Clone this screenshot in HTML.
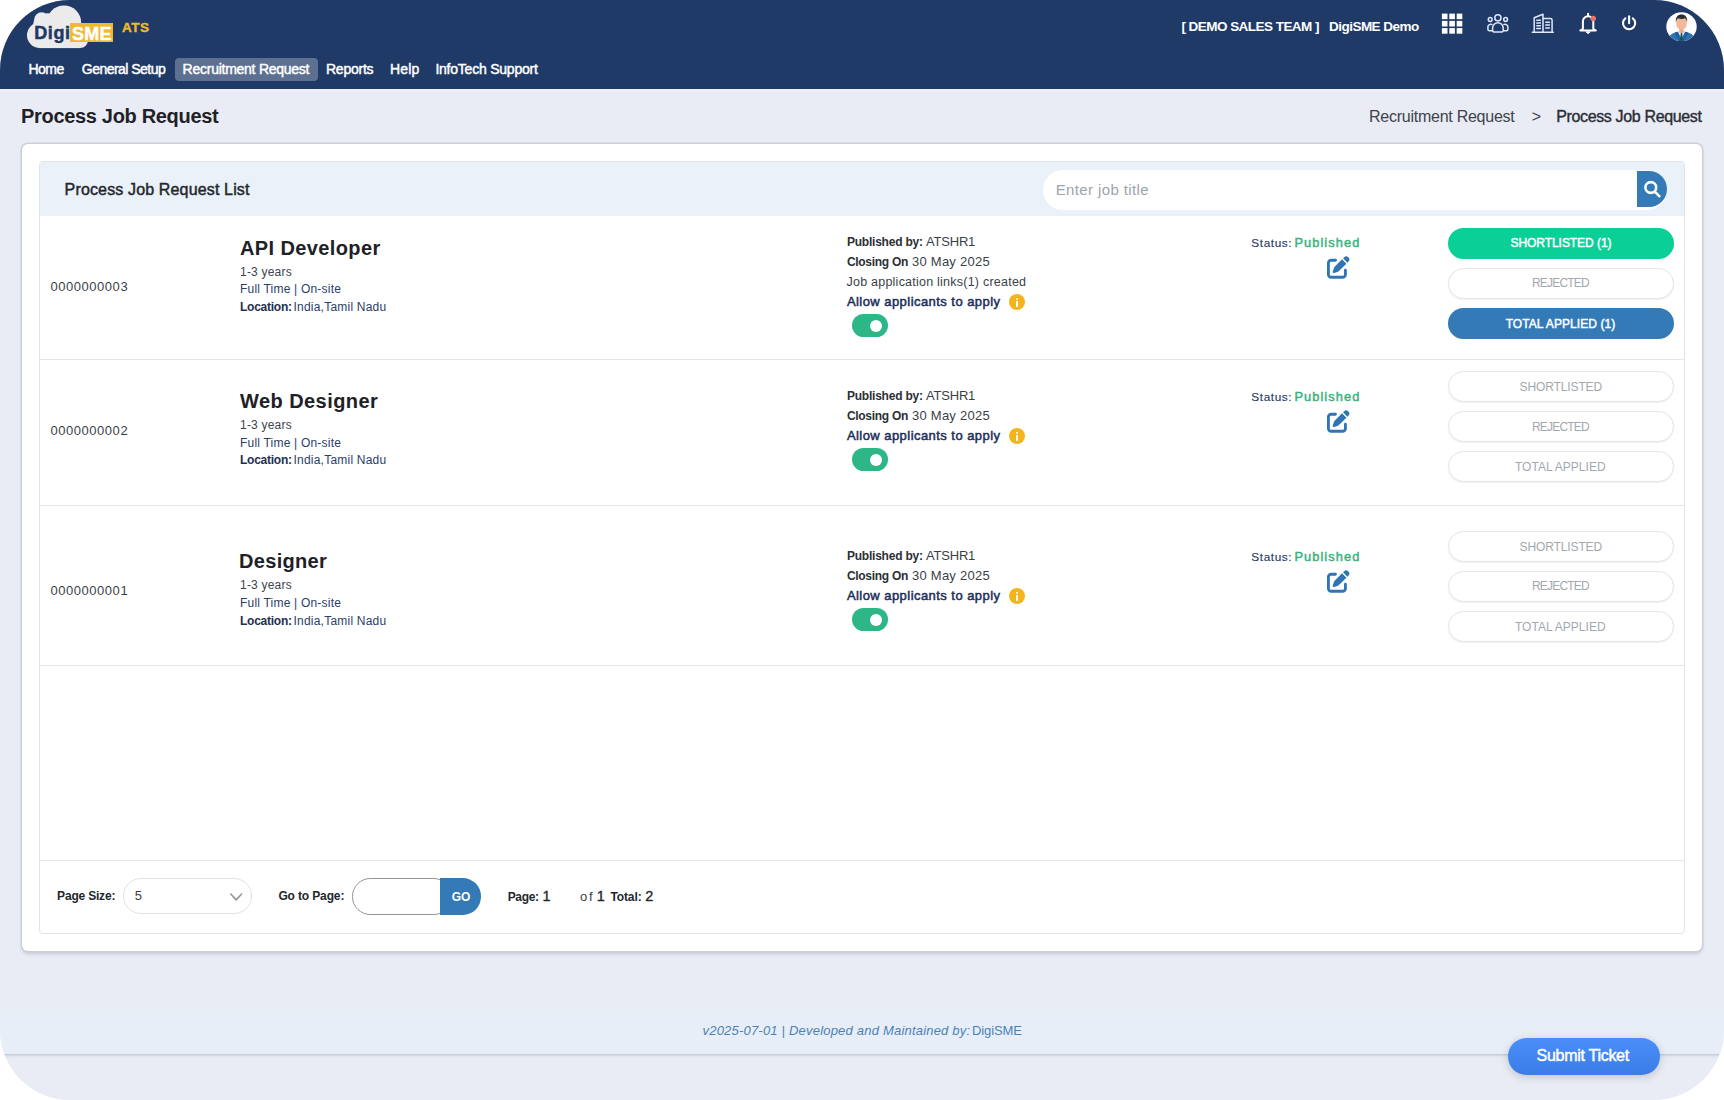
<!DOCTYPE html><html lang="en"><head><meta charset="utf-8"><title>Process Job Request - DigiSME ATS</title>
<meta name="viewport" content="width=1724"><style>
*{box-sizing:border-box;margin:0;padding:0}
html,body{width:1724px;height:1100px;overflow:hidden;background:#fff}
body{font-family:"Liberation Sans", sans-serif;position:relative}
#app{position:absolute;left:0;top:0;width:1724px;height:1100px;background:#e9ecf5;border-radius:70px;overflow:hidden}
.t{position:absolute;white-space:nowrap;line-height:1;text-decoration:none;font-weight:400;display:block}
.abs{position:absolute}
#hdr{left:0;top:0;width:1724px;height:88.800px;background:#1f3a67;box-shadow:0 2px 0 #ecf1fb}
#navact{left:175px;top:57.5px;width:142.6px;height:23.4px;border-radius:4px;background:rgba(255,255,255,.28)}
#sme{left:70.3px;top:22.9px;width:43.1px;height:18.9px;background:#f0b92f}
#card{left:21.600px;top:144.300px;width:1680.600px;height:806.400px;background:#fff;border-radius:6px;box-shadow:0 0 0 1.500px #cdcfd4,0 2.500px 3.500px 0 rgba(90,100,135,.25)}
#panel{left:38.700px;top:161px;width:1646.300px;height:772.800px;background:#fff;border:1px solid #e1e4e8;border-radius:4px;overflow:hidden}
#phead{left:40px;top:162px;width:1644px;height:54px;background:#eaf1f9;border-radius:3px 3px 0 0}
.sep{left:40px;width:1644px;height:1px;background:#e3e6ea}
#search{left:1043.3px;top:170.1px;width:624.2px;height:39.6px;border-radius:20px;background:#fff}
#sbtn{left:1637.2px;top:170.9px;width:30px;height:36.6px;background:#337ab7;border-radius:0 18.3px 18.3px 0}
.btn{left:1448px;width:225.8px;height:31px;border-radius:16px}
.btn.g{background:#0acf97}
.btn.b{background:#337ab7}
.btn.o{background:#fff;border:1px solid #e2e5e9;box-shadow:0 1px 2px rgba(0,0,0,.06)}
.tog{left:852px;width:35.6px;height:23px;border-radius:12px;background:#2db686}
.tog i{position:absolute;left:17.6px;top:5.3px;width:12.4px;height:12.4px;border-radius:50%;background:#fff}
.info{left:1008.8px;width:16.2px;height:16.2px;border-radius:50%;background:#f4b51c}
.info i{position:absolute;left:6.900px;top:3.700px;width:2.400px;height:2.300px;background:#fff;border-radius:1.200px}
.info b{position:absolute;left:6.900px;top:6.600px;width:2.400px;height:6.300px;background:#fff;border-radius:.7px}
#psel{left:123.2px;top:878.3px;width:128.8px;height:36px;border:1px solid #dee2e6;border-radius:18px;background:#fff}
#pinp{left:351.9px;top:878.2px;width:100px;height:36.5px;border:1px solid #8f949a;border-radius:18.3px;background:#fff}
#pgo{left:440.2px;top:878.2px;width:41.2px;height:36.5px;background:#337ab7;border-radius:0 18.3px 18.3px 0}
#fband{left:0;top:1008px;width:1724px;height:46px;background:linear-gradient(#e9edf6,#e8eef7 10px);box-shadow:0 3px 3px -2px rgba(90,105,135,.36)}
#ticket{left:1507.6px;top:1038.2px;width:152px;height:36.5px;border-radius:18.3px;background:linear-gradient(#4a8ef9,#3b7de7);box-shadow:0 2px 8px rgba(0,0,0,.18)}
svg{position:absolute;overflow:visible}
</style></head><body><div id="app">
<footer><div class="abs" id="fband"></div><span class="t" id="t76" style="font-size:13px;color:#4a82b8;font-style:italic;letter-spacing:0.205px;left:702.50px;top:1024.40px">v2025-07-01 | Developed and Maintained by:</span>
<span class="t" id="t77" style="font-size:13px;color:#4a82b8;letter-spacing:-0.099px;left:972.00px;top:1024.40px">DigiSME</span></footer>
<header><div class="abs" id="hdr"></div>
<svg id="cloud" style="left:0;top:0" width="130" height="56" viewBox="0 0 130 56"><g fill="#ebebeb"><circle cx="64" cy="22.7" r="17.2"/><circle cx="41.6" cy="19.7" r="7.4"/><circle cx="39.8" cy="35.3" r="12.8"/><circle cx="80" cy="40" r="8.1"/><rect x="39" y="24" width="41" height="24.1"/><circle cx="47.6" cy="18.1" r="4.9"/><path d="M33 25l1.200-5.500 8-.5v11z"/></g></svg>
<svg id="igrid" style="left:0;top:0" width="1724" height="60"><g fill="#fff"><rect x="1441.9" y="13.6" width="5.6" height="5.6"/><rect x="1449.3" y="13.6" width="5.6" height="5.6"/><rect x="1456.7" y="13.6" width="5.6" height="5.6"/><rect x="1441.9" y="20.9" width="5.6" height="5.6"/><rect x="1449.3" y="20.9" width="5.6" height="5.6"/><rect x="1456.7" y="20.9" width="5.6" height="5.6"/><rect x="1441.9" y="28.1" width="5.6" height="5.6"/><rect x="1449.3" y="28.1" width="5.6" height="5.6"/><rect x="1456.7" y="28.1" width="5.6" height="5.6"/></g></svg>
<svg id="ipeople" style="left:0;top:0" width="1724" height="60"><g fill="none" stroke="#dfe8ff" stroke-width="1.5" stroke-linejoin="round"><circle cx="1497.9" cy="17.8" r="3.1"/><circle cx="1490.2" cy="19.5" r="1.9"/><circle cx="1505.6" cy="19.5" r="1.9"/><path d="M1492.6 30.6v-2.600a5.300 5.300 0 0 1 10.600 0v2.600q0 1.500-1.500 1.500h-7.600q-1.500 0-1.500-1.500z"/><path d="M1492.600 30.800h-3.200q-1.500 0-1.500-1.500v-2.200a2.900 2.900 0 0 1 4.500-2.400"/><path d="M1503.200 30.800h3.200q1.500 0 1.500-1.500v-2.200a2.900 2.900 0 0 0-4.500-2.400"/></g></svg>
<svg id="ibuild" style="left:0;top:0" width="1724" height="60"><g fill="none" stroke="#dfe8ff" stroke-width="1.5" stroke-linejoin="round" stroke-linecap="round"><path d="M1532.300 32.300h21"/><path d="M1534.200 32.300v-14.600l8.800-3.500v18.100"/><path d="M1543 18.600h7.500q1.600 0 1.600 1.600v12.100"/><path d="M1536.800 20.300h3.600M1536.800 23h3.600M1536.800 25.800h3.600M1536.800 28.600h3.600M1545.800 22.300h3.600M1545.800 25.100h3.600M1545.800 27.900h3.600" stroke-width="1.500"/></g></svg>
<svg id="ibell" style="left:0;top:0" width="1724" height="60"><path d="M1588.100 13.800v1.400M1582.900 28.800v-7.300a5.200 5.200 0 0 1 10.400 0v7.300l2.600 1.700h-15.600z" fill="none" stroke="#fff" stroke-width="2" stroke-linejoin="round" stroke-linecap="round"/><path d="M1585.900 31.800h4.400l-2.200 1.900z" fill="#fff" stroke="#fff" stroke-width=".8" stroke-linejoin="round"/><circle cx="1593.200" cy="18.500" r="2.800" fill="#e8736b"/></svg>
<svg id="ipower" style="left:0;top:0" width="1724" height="60"><g fill="none" stroke="#fff" stroke-width="2.100" stroke-linecap="round"><path d="M1629.100 16.300v7"/><path d="M1625.400 18.300a6.100 6.100 0 1 0 7.400 0"/></g></svg>
<svg id="avatar" style="left:1666.200px;top:11.700px" width="31" height="29.4" viewBox="0 0 31 31" preserveAspectRatio="none"><defs><clipPath id="avc"><circle cx="15.5" cy="15.500" r="15.200"/></clipPath></defs><circle cx="15.500" cy="15.500" r="15.200" fill="#fdfdfd"/><g clip-path="url(#avc)"><path d="M2 31c0-6 4-9 9.500-10.200h8c5.500 1.200 9.500 4.200 9.500 10.200z" fill="#2f72b4"/><path d="M11.800 20.600l3.700 7.400 3.700-7.400z" fill="#f4f6f8"/><path d="M14.800 22h1.400l.7 7.500-1.400 1.500-1.400-1.500z" fill="#1d5246"/><path d="M11.500 20.800l-2.700 1 4.700 9.200h1zM19.500 20.800l2.700 1-4.700 9.200h-1z" fill="#1f5a98"/><rect x="13.300" y="16" width="4.400" height="6" fill="#e6a98a"/><ellipse cx="15.500" cy="11.800" rx="5.300" ry="7" fill="#f0b99c"/><path d="M9.900 10.800c-.6-5.400 2-8.200 5.600-8.200s6.200 2.800 5.600 8.200c-.5-2.300-1.300-3.600-2.300-4.200-2 .9-4.600.9-6.600 0-1 .6-1.800 1.900-2.300 4.200z" fill="#2a2a2a"/></g></svg>
<div class="abs" id="sme"></div>
<span class="t" id="t0" style="font-size:18px;color:#1f3864;font-weight:700;-webkit-text-stroke:0.5px #1f3864;letter-spacing:0.602px;left:34.20px;top:23.60px">Digi</span>
<span class="t" id="t1" style="font-size:18px;color:#ffffff;font-weight:700;-webkit-text-stroke:0.5px #ffffff;letter-spacing:0.350px;left:71.90px;top:24.90px">SME</span>
<span class="t" id="t2" style="font-size:13.5px;color:#f0b92f;font-weight:700;-webkit-text-stroke:0.4px #f0b92f;letter-spacing:0.603px;left:121.90px;top:21.00px">ATS</span>
<nav><div class="abs" id="navact"></div><a class="t" id="t3" href="#" style="font-size:14px;color:#ffffff;-webkit-text-stroke:0.45px #ffffff;letter-spacing:-0.520px;left:28.40px;top:62.30px">Home</a>
<a class="t" id="t4" href="#" style="font-size:14px;color:#ffffff;-webkit-text-stroke:0.45px #ffffff;letter-spacing:-0.525px;left:81.80px;top:62.30px">General Setup</a>
<a class="t" id="t5" href="#" style="font-size:14px;color:#ffffff;-webkit-text-stroke:0.45px #ffffff;letter-spacing:-0.256px;left:182.60px;top:62.30px">Recruitment Request</a>
<a class="t" id="t6" href="#" style="font-size:14px;color:#ffffff;-webkit-text-stroke:0.45px #ffffff;letter-spacing:-0.237px;left:326.00px;top:62.30px">Reports</a>
<a class="t" id="t7" href="#" style="font-size:14px;color:#ffffff;-webkit-text-stroke:0.45px #ffffff;letter-spacing:0.131px;left:390.00px;top:62.30px">Help</a>
<a class="t" id="t8" href="#" style="font-size:14px;color:#ffffff;-webkit-text-stroke:0.45px #ffffff;letter-spacing:-0.224px;left:435.40px;top:62.30px">InfoTech Support</a></nav>
<div id="hright"><span class="t" id="t9" style="font-size:13.5px;color:#ffffff;font-weight:700;letter-spacing:-0.536px;left:1181.40px;top:20.20px">[ DEMO SALES TEAM ]</span>
<span class="t" id="t10" style="font-size:13.5px;color:#ffffff;font-weight:700;letter-spacing:-0.524px;left:1329.00px;top:20.20px">DigiSME Demo</span></div>
</header>
<main>
<h1 class="t" id="t11" style="font-size:20px;color:#1e2126;font-weight:700;letter-spacing:-0.319px;left:21.00px;top:106.30px">Process Job Request</h1>
<div id="crumb"><span class="t" id="t12" style="font-size:16px;color:#3d434b;letter-spacing:-0.252px;left:1369.00px;top:109.40px">Recruitment Request</span>
<span class="t" id="t13" style="font-size:16px;color:#3d434b;left:1531.80px;top:109.40px">&gt;</span>
<span class="t" id="t14" style="font-size:16px;color:#2a2e35;-webkit-text-stroke:0.4px #2a2e35;letter-spacing:-0.352px;left:1556.20px;top:109.40px">Process Job Request</span></div>
<section><div class="abs" id="card"></div><div class="abs" id="panel"></div><div class="abs" id="phead"></div>
<div class="abs" id="search"></div><div class="abs" id="sbtn"></div>
<svg style="left:0;top:0" width="1724" height="220"><g fill="none" stroke="#fff" stroke-width="2.600" stroke-linecap="round"><circle cx="1650.800" cy="187.500" r="5.400"/><path d="M1655 191.800l4.300 4.400"/></g></svg>
<h2 class="t" id="t15" style="font-size:16px;color:#23272d;-webkit-text-stroke:0.45px #23272d;letter-spacing:0.149px;left:64.60px;top:182.30px">Process Job Request List</h2>
<span class="t" id="t16" style="font-size:15px;color:#9ea4ab;letter-spacing:0.378px;left:1055.70px;top:182.30px">Enter job title</span>
<div class="abs sep" style="top:358.8px"></div>
<div class="abs sep" style="top:504.7px"></div>
<div class="abs sep" style="top:664.7px"></div>
<div class="abs sep" style="top:859.9px"></div>
<article id="row0">
<div class="abs btn g" style="top:227.5px"></div>
<div class="abs btn o" style="top:267.9px"></div>
<div class="abs btn b" style="top:308.2px"></div>
<div class="abs tog" style="top:314.3px"><i></i></div>
<div class="abs info" style="top:294.1px"><i></i><b></b></div>
<svg style="left:1327.400px;top:256.0px" width="22.700" height="22.700" viewBox="0 0 512 512"><path fill="#2f74b5" d="M471.6 21.7c-21.9-21.9-57.3-21.9-79.2 0L362.3 51.7l97.900 97.900 30.100-30.100c21.900-21.900 21.900-57.300 0-79.200L471.600 21.700zm-299.200 220c-6.100 6.100-10.800 13.600-13.500 21.900l-29.600 88.800c-2.900 8.600-.6 18.100 5.800 24.600s15.900 8.700 24.600 5.800l88.800-29.600c8.200-2.700 15.700-7.400 21.900-13.500L437.700 172.300 339.700 74.300 172.400 241.700zM96 64C43 64 0 107 0 160V416c0 53 43 96 96 96H352c53 0 96-43 96-96V320c0-17.700-14.300-32-32-32s-32 14.300-32 32v96c0 17.700-14.300 32-32 32H96c-17.700 0-32-14.300-32-32V160c0-17.700 14.300-32 32-32h96c17.700 0 32-14.300 32-32s-14.300-32-32-32H96z"/></svg>
<span class="t" id="t17" style="font-size:13px;color:#3a3f47;letter-spacing:0.548px;left:50.40px;top:280.40px">0000000003</span>
<h3 class="t" id="t18" style="font-size:20px;color:#1e2126;font-weight:700;letter-spacing:0.381px;left:240.00px;top:237.70px">API Developer</h3>
<span class="t" id="t19" style="font-size:12px;color:#3d434b;letter-spacing:0.210px;left:240.00px;top:266.10px">1-3 years</span>
<span class="t" id="t20" style="font-size:12px;color:#2b4068;letter-spacing:0.207px;left:240.00px;top:283.30px">Full Time | On-site</span>
<span class="t" id="t21" style="font-size:12px;color:#1f3050;font-weight:700;letter-spacing:-0.250px;left:240.00px;top:300.90px">Location:</span>
<span class="t" id="t22" style="font-size:12px;color:#2b4068;letter-spacing:0.220px;left:293.50px;top:300.90px">India,Tamil Nadu</span>
<span class="t" id="t23" style="font-size:12px;color:#2b2f36;font-weight:700;letter-spacing:-0.215px;left:846.90px;top:236.40px">Published by:</span>
<span class="t" id="t24" style="font-size:13px;color:#3a3f47;letter-spacing:-0.199px;left:926.00px;top:235.40px">ATSHR1</span>
<span class="t" id="t25" style="font-size:12px;color:#2b2f36;font-weight:700;letter-spacing:-0.285px;left:846.90px;top:256.00px">Closing On</span>
<span class="t" id="t26" style="font-size:13px;color:#3a3f47;letter-spacing:0.247px;left:912.00px;top:255.00px">30 May 2025</span>
<span class="t" id="t27" style="font-size:12.5px;color:#3a3f47;letter-spacing:0.233px;left:846.50px;top:276.00px">Job application links(1) created</span>
<span class="t" id="t28" style="font-size:13px;color:#1c2f5a;-webkit-text-stroke:0.5px #1c2f5a;letter-spacing:0.448px;left:846.90px;top:294.70px">Allow applicants to apply</span>
<span class="t" id="t29" style="font-size:11.8px;color:#2b3d63;-webkit-text-stroke:0.15px #2b3d63;letter-spacing:0.593px;left:1251.30px;top:238.00px">Status:</span>
<span class="t" id="t30" style="font-size:12.8px;color:#3db37e;-webkit-text-stroke:0.5px #3db37e;letter-spacing:1.089px;left:1294.40px;top:237.00px">Published</span>
<span class="t" id="t31" style="font-size:12px;color:#ffffff;-webkit-text-stroke:0.45px #ffffff;letter-spacing:-0.057px;left:1510.50px;top:236.80px">SHORTLISTED (1)</span>
<span class="t" id="t32" style="font-size:12px;color:#a3a8ae;letter-spacing:-0.811px;left:1532.00px;top:277.20px">REJECTED</span>
<span class="t" id="t33" style="font-size:12px;color:#ffffff;-webkit-text-stroke:0.45px #ffffff;letter-spacing:0.063px;left:1505.70px;top:317.50px">TOTAL APPLIED (1)</span>
</article>
<article id="row1">
<div class="abs btn o" style="top:371.4px"></div>
<div class="abs btn o" style="top:411.2px"></div>
<div class="abs btn o" style="top:451.4px"></div>
<div class="abs tog" style="top:448.4px"><i></i></div>
<div class="abs info" style="top:428.2px"><i></i><b></b></div>
<svg style="left:1327.400px;top:409.9px" width="22.700" height="22.700" viewBox="0 0 512 512"><path fill="#2f74b5" d="M471.6 21.7c-21.9-21.9-57.3-21.9-79.2 0L362.3 51.7l97.900 97.900 30.100-30.100c21.900-21.900 21.900-57.300 0-79.200L471.600 21.700zm-299.200 220c-6.100 6.100-10.800 13.600-13.500 21.900l-29.600 88.800c-2.900 8.600-.6 18.100 5.800 24.600s15.900 8.700 24.600 5.800l88.800-29.600c8.200-2.700 15.700-7.400 21.900-13.500L437.700 172.300 339.700 74.300 172.400 241.700zM96 64C43 64 0 107 0 160V416c0 53 43 96 96 96H352c53 0 96-43 96-96V320c0-17.700-14.300-32-32-32s-32 14.300-32 32v96c0 17.700-14.300 32-32 32H96c-17.700 0-32-14.300-32-32V160c0-17.700 14.300-32 32-32h96c17.700 0 32-14.300 32-32s-14.300-32-32-32H96z"/></svg>
<span class="t" id="t34" style="font-size:13px;color:#3a3f47;letter-spacing:0.548px;left:50.40px;top:424.30px">0000000002</span>
<h3 class="t" id="t35" style="font-size:20px;color:#1e2126;font-weight:700;letter-spacing:0.435px;left:240.00px;top:391.20px">Web Designer</h3>
<span class="t" id="t36" style="font-size:12px;color:#3d434b;letter-spacing:0.210px;left:240.00px;top:419.10px">1-3 years</span>
<span class="t" id="t37" style="font-size:12px;color:#2b4068;letter-spacing:0.207px;left:240.00px;top:436.90px">Full Time | On-site</span>
<span class="t" id="t38" style="font-size:12px;color:#1f3050;font-weight:700;letter-spacing:-0.250px;left:240.00px;top:454.30px">Location:</span>
<span class="t" id="t39" style="font-size:12px;color:#2b4068;letter-spacing:0.220px;left:293.50px;top:454.30px">India,Tamil Nadu</span>
<span class="t" id="t40" style="font-size:12px;color:#2b2f36;font-weight:700;letter-spacing:-0.215px;left:846.90px;top:390.10px">Published by:</span>
<span class="t" id="t41" style="font-size:13px;color:#3a3f47;letter-spacing:-0.199px;left:926.00px;top:389.10px">ATSHR1</span>
<span class="t" id="t42" style="font-size:12px;color:#2b2f36;font-weight:700;letter-spacing:-0.285px;left:846.90px;top:410.10px">Closing On</span>
<span class="t" id="t43" style="font-size:13px;color:#3a3f47;letter-spacing:0.247px;left:912.00px;top:409.10px">30 May 2025</span>
<span class="t" id="t44" style="font-size:13px;color:#1c2f5a;-webkit-text-stroke:0.5px #1c2f5a;letter-spacing:0.448px;left:846.90px;top:428.80px">Allow applicants to apply</span>
<span class="t" id="t45" style="font-size:11.8px;color:#2b3d63;-webkit-text-stroke:0.15px #2b3d63;letter-spacing:0.593px;left:1251.30px;top:391.90px">Status:</span>
<span class="t" id="t46" style="font-size:12.8px;color:#3db37e;-webkit-text-stroke:0.5px #3db37e;letter-spacing:1.089px;left:1294.40px;top:390.90px">Published</span>
<span class="t" id="t47" style="font-size:12px;color:#a3a8ae;letter-spacing:-0.113px;left:1519.50px;top:380.70px">SHORTLISTED</span>
<span class="t" id="t48" style="font-size:12px;color:#a3a8ae;letter-spacing:-0.811px;left:1532.00px;top:420.50px">REJECTED</span>
<span class="t" id="t49" style="font-size:12px;color:#a3a8ae;letter-spacing:0.007px;left:1515.00px;top:460.70px">TOTAL APPLIED</span>
</article>
<article id="row2">
<div class="abs btn o" style="top:531.4px"></div>
<div class="abs btn o" style="top:571.0px"></div>
<div class="abs btn o" style="top:611.4px"></div>
<div class="abs tog" style="top:608.4px"><i></i></div>
<div class="abs info" style="top:588.2px"><i></i><b></b></div>
<svg style="left:1327.400px;top:569.9px" width="22.700" height="22.700" viewBox="0 0 512 512"><path fill="#2f74b5" d="M471.6 21.7c-21.9-21.9-57.3-21.9-79.2 0L362.3 51.7l97.900 97.900 30.100-30.100c21.900-21.900 21.900-57.300 0-79.200L471.600 21.700zm-299.200 220c-6.100 6.100-10.800 13.600-13.500 21.900l-29.600 88.800c-2.900 8.600-.6 18.100 5.800 24.600s15.900 8.700 24.600 5.800l88.800-29.600c8.200-2.700 15.700-7.400 21.900-13.500L437.700 172.300 339.700 74.300 172.400 241.700zM96 64C43 64 0 107 0 160V416c0 53 43 96 96 96H352c53 0 96-43 96-96V320c0-17.700-14.300-32-32-32s-32 14.300-32 32v96c0 17.700-14.300 32-32 32H96c-17.700 0-32-14.300-32-32V160c0-17.700 14.300-32 32-32h96c17.700 0 32-14.300 32-32s-14.300-32-32-32H96z"/></svg>
<span class="t" id="t50" style="font-size:13px;color:#3a3f47;letter-spacing:0.548px;left:50.40px;top:584.00px">0000000001</span>
<h3 class="t" id="t51" style="font-size:20px;color:#1e2126;font-weight:700;letter-spacing:0.314px;left:239.00px;top:551.00px">Designer</h3>
<span class="t" id="t52" style="font-size:12px;color:#3d434b;letter-spacing:0.210px;left:240.00px;top:578.90px">1-3 years</span>
<span class="t" id="t53" style="font-size:12px;color:#2b4068;letter-spacing:0.207px;left:240.00px;top:597.00px">Full Time | On-site</span>
<span class="t" id="t54" style="font-size:12px;color:#1f3050;font-weight:700;letter-spacing:-0.250px;left:240.00px;top:615.10px">Location:</span>
<span class="t" id="t55" style="font-size:12px;color:#2b4068;letter-spacing:0.220px;left:293.50px;top:615.10px">India,Tamil Nadu</span>
<span class="t" id="t56" style="font-size:12px;color:#2b2f36;font-weight:700;letter-spacing:-0.215px;left:846.90px;top:550.10px">Published by:</span>
<span class="t" id="t57" style="font-size:13px;color:#3a3f47;letter-spacing:-0.199px;left:926.00px;top:549.10px">ATSHR1</span>
<span class="t" id="t58" style="font-size:12px;color:#2b2f36;font-weight:700;letter-spacing:-0.285px;left:846.90px;top:570.10px">Closing On</span>
<span class="t" id="t59" style="font-size:13px;color:#3a3f47;letter-spacing:0.247px;left:912.00px;top:569.10px">30 May 2025</span>
<span class="t" id="t60" style="font-size:13px;color:#1c2f5a;-webkit-text-stroke:0.5px #1c2f5a;letter-spacing:0.448px;left:846.90px;top:588.80px">Allow applicants to apply</span>
<span class="t" id="t61" style="font-size:11.8px;color:#2b3d63;-webkit-text-stroke:0.15px #2b3d63;letter-spacing:0.593px;left:1251.30px;top:551.90px">Status:</span>
<span class="t" id="t62" style="font-size:12.8px;color:#3db37e;-webkit-text-stroke:0.5px #3db37e;letter-spacing:1.089px;left:1294.40px;top:550.90px">Published</span>
<span class="t" id="t63" style="font-size:12px;color:#a3a8ae;letter-spacing:-0.113px;left:1519.50px;top:540.70px">SHORTLISTED</span>
<span class="t" id="t64" style="font-size:12px;color:#a3a8ae;letter-spacing:-0.811px;left:1532.00px;top:580.30px">REJECTED</span>
<span class="t" id="t65" style="font-size:12px;color:#a3a8ae;letter-spacing:0.007px;left:1515.00px;top:620.70px">TOTAL APPLIED</span>
</article>
<div id="pager"><div class="abs" id="psel"></div><svg style="left:230.400px;top:892.900px" width="12.400" height="8" viewBox="0 0 12.400 8"><path d="M.8 1l5.400 5.800L11.600 1" fill="none" stroke="#9a9a9a" stroke-width="1.700" stroke-linecap="round" stroke-linejoin="round"/></svg><div class="abs" id="pinp"></div><div class="abs" id="pgo"></div>
<span class="t" id="t66" style="font-size:12px;color:#23272d;font-weight:700;letter-spacing:-0.192px;left:57.10px;top:890.40px">Page Size:</span>
<span class="t" id="t67" style="font-size:13px;color:#3a3f47;left:134.80px;top:889.40px">5</span>
<span class="t" id="t68" style="font-size:12px;color:#23272d;font-weight:700;letter-spacing:-0.134px;left:278.40px;top:890.40px">Go to Page:</span>
<span class="t" id="t69" style="font-size:12px;color:#ffffff;font-weight:700;letter-spacing:-0.134px;left:451.70px;top:890.60px">GO</span>
<span class="t" id="t70" style="font-size:12px;color:#23272d;font-weight:700;letter-spacing:-0.345px;left:507.70px;top:890.60px">Page:</span>
<span class="t" id="t71" style="font-size:14.5px;color:#23272d;-webkit-text-stroke:0.35px #23272d;left:542.40px;top:888.60px">1</span>
<span class="t" id="t72" style="font-size:13px;color:#3a3f47;letter-spacing:1.770px;left:580.10px;top:889.60px">of</span>
<span class="t" id="t73" style="font-size:14.5px;color:#23272d;-webkit-text-stroke:0.35px #23272d;left:596.70px;top:888.60px">1</span>
<span class="t" id="t74" style="font-size:12px;color:#23272d;font-weight:700;letter-spacing:-0.095px;left:610.40px;top:890.60px">Total:</span>
<span class="t" id="t75" style="font-size:14.5px;color:#23272d;-webkit-text-stroke:0.35px #23272d;left:645.30px;top:888.60px">2</span>
</div></section></main>
<div class="abs" id="ticket"></div><span class="t" id="t78" style="font-size:16px;color:#ffffff;-webkit-text-stroke:0.45px #ffffff;letter-spacing:-0.290px;left:1536.60px;top:1048.40px">Submit Ticket</span>
</div></body></html>
